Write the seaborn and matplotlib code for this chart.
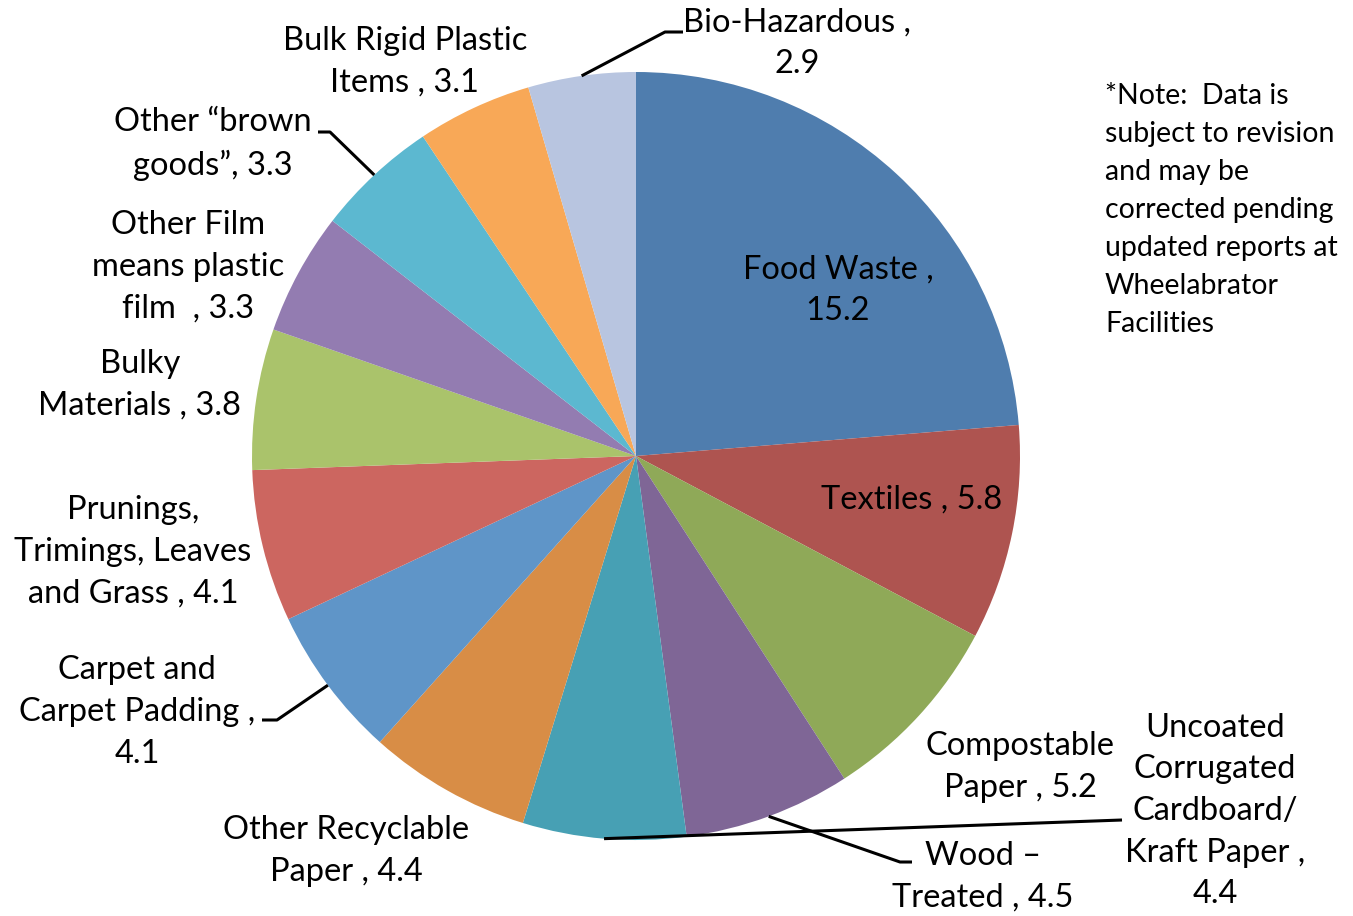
import numpy as np
import matplotlib
matplotlib.use("Agg")
import matplotlib.pyplot as plt
import seaborn as sns

# waste composition (clockwise from 12 o'clock)
categories = [
    "Food Waste", "Textiles", "Compostable Paper", "Wood \u2013 Treated",
    "Uncoated Corrugated Cardboard/ Kraft Paper", "Other Recyclable Paper",
    "Carpet and Carpet Padding", "Prunings, Trimings, Leaves and Grass",
    "Bulky Materials", "Other Film means plastic film",
    "Other \u201cbrown goods\u201d", "Bulk Rigid Plastic Items", "Bio-Hazardous",
]
values = [15.2, 5.8, 5.2, 4.5, 4.4, 4.4, 4.1, 4.1, 3.8, 3.3, 3.3, 3.1, 2.9]
colors = ["#4F7DAE", "#AE5450", "#8FA958", "#7F6696", "#47A0B4", "#D88D46",
          "#5F95C8", "#CC6660", "#AAC36B", "#937CB1", "#5CB8D0", "#F8A857",
          "#B8C5E0"]

# label text as drawn on the chart
labels = [
    "Food Waste ,\n15.2", "Textiles , 5.8", "Compostable\nPaper , 5.2",
    "Wood \u2013\nTreated , 4.5",
    "Uncoated\nCorrugated\nCardboard/\nKraft Paper ,\n4.4",
    "Other Recyclable\nPaper , 4.4", "Carpet and\nCarpet Padding ,\n4.1",
    "Prunings,\nTrimings, Leaves\nand Grass , 4.1", "Bulky\nMaterials , 3.8",
    "Other Film\nmeans plastic\nfilm  , 3.3", "Other \u201cbrown\ngoods\u201d, 3.3",
    "Bulk Rigid Plastic\nItems , 3.1", "Bio-Hazardous ,\n2.9",
]

note = ("*Note:  Data is\nsubject to revision\nand may be\ncorrected pending\n"
        "updated reports at\nWheelabrator\nFacilities")

sns.set_theme(style="white")
plt.rcParams["font.family"] = ["Lato", "DejaVu Sans"]

W, H = 1353, 916
fig = plt.figure(figsize=(W / 100, H / 100), dpi=100)
ax = fig.add_axes([0, 0, 1, 1])

cx, cy, R = 636, H - 456, 384
wedges, _ = ax.pie(values, colors=colors, startangle=90, counterclock=False,
                   center=(cx, cy), radius=R, frame=True,
                   wedgeprops=dict(linewidth=0))
ax.set_xlim(0, W)
ax.set_ylim(0, H)
ax.set_aspect("equal")
ax.axis("off")

# label centre positions (pixel coords, y from top)
label_pos = [
    (838, 290), (912, 500), (1020, 767), (983, 877), (1215, 811),
    (346, 851), (137, 712), (133, 552), (140, 385), (188, 267),
    (213, 144), (405, 62), (797, 43),
]
for lab, (x, y) in zip(labels, label_pos):
    ax.text(x, H - y, lab, ha="center", va="center", fontsize=23.5,
            linespacing=1.48, color="black")

# leader lines: from wedge mid-arc to an elbow next to the label
leaders = {
    12: [(665, 32), (683, 32)],
    10: [(330, 132), (318, 132)],
    6: [(277, 720), (262, 720)],
    3: [(900, 862), (912, 862)],
    4: [(1122, 820)],
}
for i, pts in leaders.items():
    w = wedges[i]
    mid = np.deg2rad((w.theta1 + w.theta2) / 2)
    xs = [cx + R * np.cos(mid)] + [p[0] for p in pts]
    ys = [cy + R * np.sin(mid)] + [H - p[1] for p in pts]
    ax.plot(xs, ys, color="black", lw=2.2, solid_capstyle="butt")

ax.text(1105, H - 83, note, ha="left", va="top", fontsize=20.5,
        linespacing=1.57, color="black")

fig.savefig("out.png", dpi=100, facecolor="white")
